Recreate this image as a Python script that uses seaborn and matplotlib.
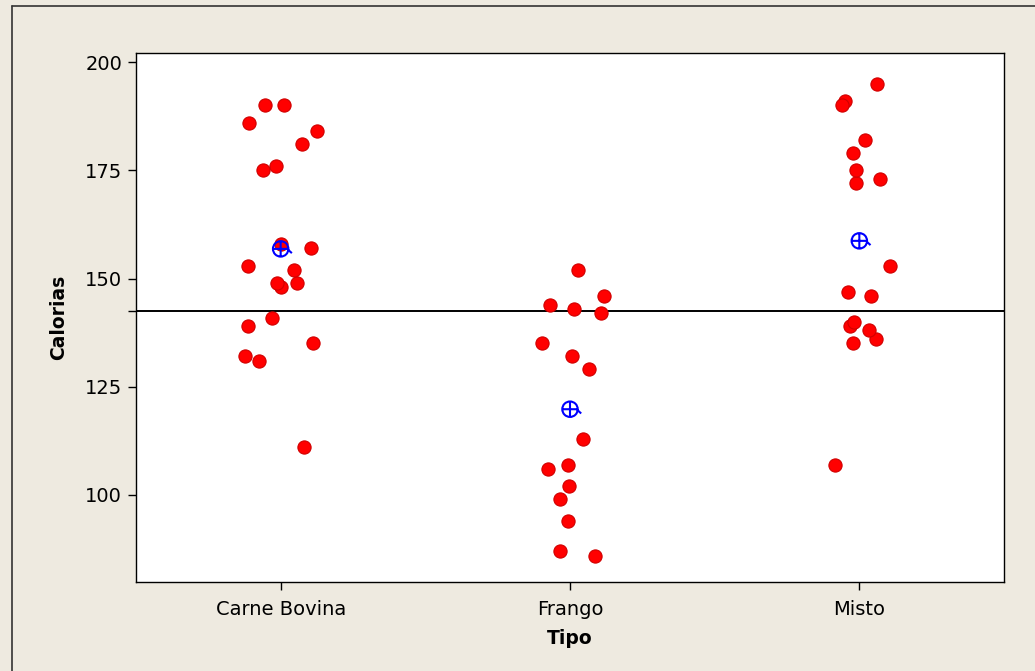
import numpy as np
import pandas as pd
import matplotlib
matplotlib.use("Agg")
import matplotlib.pyplot as plt
from matplotlib.path import Path
from matplotlib.lines import Line2D
import seaborn as sns

# Calories per group
tipos = ["Carne Bovina", "Frango", "Misto"]
carne_bovina = [186, 181, 176, 149, 184, 190, 158, 139, 175, 148,
                152, 111, 141, 153, 190, 157, 131, 149, 135, 132]
frango = [152, 146, 144, 143, 142, 135, 132, 129, 113, 107,
          106, 102, 99, 94, 87, 86]
misto = [173, 191, 182, 190, 172, 147, 146, 139, 175, 136,
         179, 153, 107, 195, 135, 140, 138]
linha_referencia = 142.4
y_ticks = [100, 125, 150, 175, 200]

df = pd.DataFrame({
    "Tipo": (["Carne Bovina"] * len(carne_bovina) + ["Frango"] * len(frango)
             + ["Misto"] * len(misto)),
    "Calorias": carne_bovina + frango + misto,
})
medias = df.groupby("Tipo", sort=False)["Calorias"].mean().reindex(tipos).reset_index()

sns.set_theme(style="white")
plt.rcParams["font.family"] = ["DejaVu Sans"]
plt.rcParams["text.color"] = "black"
plt.rcParams["axes.labelcolor"] = "black"

BG = "#EEEAE0"
fig = plt.figure(figsize=(10.35, 6.71), dpi=100, facecolor=BG)
ax = fig.add_axes([136 / 1035, 1 - 582 / 671, (1004 - 136) / 1035, (582 - 53) / 671])
ax.set_facecolor("white")

# Reference line across the panel
ax.axhline(linha_referencia, color="black", lw=1.4, zorder=1)

np.random.seed(7)
sns.stripplot(data=df, x="Tipo", y="Calorias", order=tipos, jitter=0.13,
              color="#FF0000", size=9.5, linewidth=0.8, edgecolor="#D00000",
              ax=ax, zorder=3)

# Mean symbol: circle with a cross and a short tail
verts = []
codes = []
circ = Path.unit_circle()
verts += list(circ.vertices)
codes += list(circ.codes)
verts += [(-1, 0), (1, 0), (0, -1), (0, 1), (0.95, -0.1), (1.45, -0.55)]
codes += [Path.MOVETO, Path.LINETO] * 3
mean_marker = Path(verts, codes)

sns.scatterplot(data=medias, x="Tipo", y="Calorias", marker=mean_marker,
                s=260, facecolor="none", edgecolor="#0000FF", linewidth=1.5,
                color="#0000FF", ax=ax, zorder=4, legend=False)

ax.set_xlim(-0.5, 2.5)
ax.set_ylim(79.9, 202.1)
ax.set_yticks(y_ticks)
ax.set_yticks([linha_referencia], minor=True)
ax.set_xticks(range(len(tipos)))
ax.set_xticklabels(tipos)

for sp in ax.spines.values():
    sp.set_visible(True)
    sp.set_color("black")
    sp.set_linewidth(1.0)

ax.tick_params(axis="both", which="both", direction="out", length=6,
               width=1, color="black", labelsize=14, labelcolor="black",
               left=True, bottom=True)
ax.tick_params(axis="x", which="major", pad=7)
ax.tick_params(axis="y", which="major", pad=4)

ax.set_xlabel("Tipo", fontsize=13.5, fontweight="bold", labelpad=7, color="black")
ax.set_ylabel("Calorias", fontsize=13.5, fontweight="bold", labelpad=12, color="black")

# Outer frame of the graph window
fig.add_artist(Line2D([12 / 1035, 12 / 1035], [0, 1 - 5.5 / 671],
                      transform=fig.transFigure, color="#333333", lw=1.2))
fig.add_artist(Line2D([12 / 1035, 1], [1 - 5.5 / 671, 1 - 5.5 / 671],
                      transform=fig.transFigure, color="#333333", lw=1.2))

fig.savefig("out.png", dpi=100, facecolor=BG)
